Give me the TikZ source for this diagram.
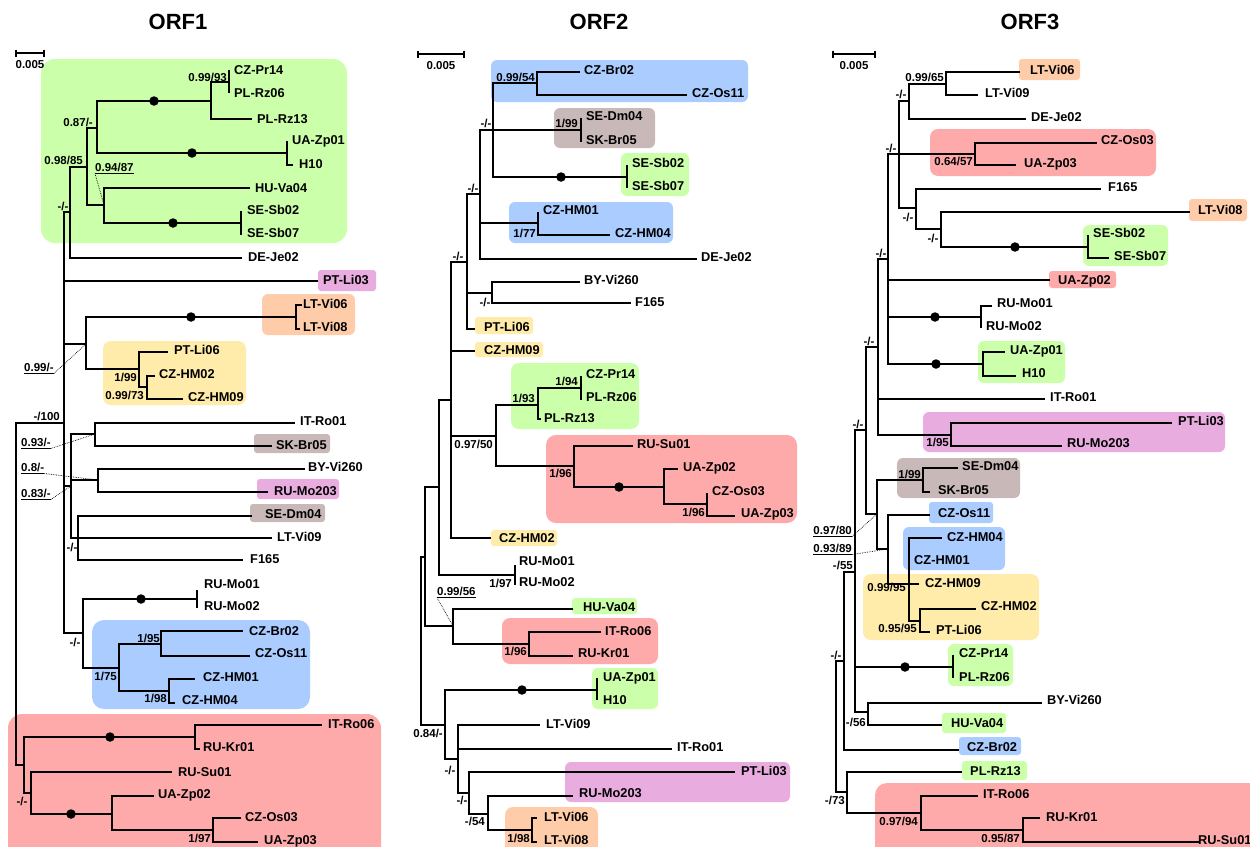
\documentclass[tikz,border=0pt]{standalone}
\usepackage{fontspec}
\setmainfont{Liberation Sans}
\usetikzlibrary{calc}
\definecolor{cgrn}{RGB}{204,255,170}
\definecolor{cblu}{RGB}{170,204,255}
\definecolor{cred}{RGB}{255,170,170}
\definecolor{corg}{RGB}{255,204,170}
\definecolor{cyel}{RGB}{255,236,170}
\definecolor{cbrn}{RGB}{200,184,184}
\definecolor{cpnk}{RGB}{232,172,222}
\newcommand\labfont{\fontsize{12.8}{14}\selectfont\bfseries}
\newcommand\spfont{\fontsize{11.5}{13}\selectfont\bfseries}
\begin{document}
\begin{tikzpicture}[x=1pt,y=-1pt,
  br/.style={line width=2pt},
  lab/.style={font=\labfont,anchor=west,inner sep=0pt,text height=9.2pt,text depth=0pt},
  supp/.style={font=\spfont,anchor=east,inner sep=0pt,text height=8.2pt,text depth=0pt},
  supc/.style={supp,anchor=center},
  dotn/.style={circle,fill=black,inner sep=0pt,minimum size=9.5pt},
  dotl/.style={densely dotted,line width=0.7pt},
  ul/.style={line width=1.2pt},
  sbar/.style={line width=1.4pt},
  ttl/.style={font=\fontsize{22}{26}\selectfont\bfseries,inner sep=0pt}]
\useasboundingbox (0,0) rectangle (1250,846);
\clip (0,0) rectangle (1250,846);
\fill[white] (0,0) rectangle (1250,846);

% ---------- coloured boxes ----------
\foreach \col/\xa/\ya/\xb/\yb/\rad in {
 cgrn/41/59/347/243/14, cpnk/318/270/376/291/3, corg/262/294/355/335/6,
 cyel/103/341/246/405/8, cbrn/254/434/330/453/3, cpnk/257/479/339/499/3,
 cbrn/250/504/325/522/3, cblu/92/620/310/709/12, cred/8/714/381/870/14,
 cblu/491/60/748/102/6, cbrn/554/108/655/148/6, cgrn/621/153/689/196/6,
 cblu/509/202/673/243/6, cyel/475/317/533/334/3, cyel/475/342/543/357/3,
 cgrn/511/363/639/429/8, cred/546/435/797/523/10, cyel/491/530/557/546/3,
 cgrn/572/598/637/614/3, cred/502/618/658/664/8, cgrn/592/668/658/709/6,
 cpnk/565/762/790/802/6, corg/505/807/598/870/8,
 corg/1019/59/1080/80/3, cred/930/129/1156/176/8, corg/1189/199/1247/221/3,
 cgrn/1083/225/1168/266/6, cred/1049/271/1116/288/3, cgrn/978/341/1065/383/6,
 cpnk/923/412/1225/452/6, cbrn/897/458/1020/498/6, cblu/929/502/993/523/3,
 cblu/903/527/1005/570/6, cyel/863/574/1039/640/8, cgrn/948/644/1013/686/6,
 cgrn/942/713/1006/733/3, cblu/959/737/1021/755/3, cgrn/962/761/1027/780/3,
 cred/875/783/1270/870/12}
 \fill[\col, rounded corners=\rad pt] (\xa,\ya) rectangle (\xb,\yb);

% ---------- titles and scale bars ----------
\node[ttl] (title1) at (178,22) {ORF1};
\node[ttl] (title2) at (599,22) {ORF2};
\node[ttl] (title3) at (1030,22) {ORF3};
\foreach \n/\xa/\xb/\y in {s1/16/44/53, s2/418/464/54, s3/833/875/54}{
  \coordinate (\n a) at (\xa,\y); \coordinate (\n b) at (\xb,\y);
  \draw[sbar] (\n a) -- (\n b);
  \draw[sbar] ([yshift=3.5pt]\n a) -- ([yshift=-3.5pt]\n a);
  \draw[sbar] ([yshift=3.5pt]\n b) -- ([yshift=-3.5pt]\n b);
  \node[supc] (\n t) at ($(\n a)!0.5!(\n b)+(0,11)$) {0.005};
}

% ---------- node coordinates ----------
\foreach \n/\x/\y in {
 aA/229/82, aB/211/101, aC/97/128, aUA/287/153, aD/87/167, aE/104/205,
 aSE/241/223, aF/70/212, aG/64/423, aH/86/344, aLT/296/317, aI/139/369,
 aJ/147/387, aK/16/594, aL/71/486, aM/95/434, aN/98/480, aO/78/538,
 aP/83/633, aMo/197/599, aQ/119/668, aR/161/644, aS/169/691, aT/24/765,
 aU/195/737, aV/31/793, aW/112/814, aX/213/830,
 atCZPr14/229/70, atPLRz06/229/93, atPLRz13/252/119, atUAZp01/287/141,
 atH10/293/165, atHUVa04/250/188, atSESb02/241/211, atSESb07/241/235,
 atDEJe02/242/258, atPTLi03/318/281, atLTVi06/302/305, atLTVi08/300/329,
 atPTLi06/168/352, atCZHM02/155/376, atCZHM09/183/399, atITRo01/295/423,
 atSKBr05/272/446, atBYVi260/305/469, atRUMo203/268/492, atSEDm04/252/516,
 atLTVi09/272/538, atF165/243/560, atRUMo01/197/590, atRUMo02/197/608,
 atCZBr02/243/631, atCZOs11/250/656, atCZHM01/195/679, atCZHM04/175/703,
 atITRo06/322/725, atRUKr01/200/749, atRUSu01/172/772, atUAZp02/154/796,
 atCZOs03/241/818, atUAZp03/258/842,
 bA/537/83, bB/493/130, bDm/581/130, bSb/627/177, bHM/538/223, bC/480/194,
 bE/492/293, bD/467/262, bF/451/400, bI/581/388, bH/538/405, bG/496/436,
 bJ/574/466, bK/664/487, bL/707/504, bM/439/487, bMo/515/575, bN/425/557,
 bO/453/626, bP/529/644, bQ/421/641, bR/445/725, bZp/597/690, bS/458/759,
 bT/469/793, bU/488/814, bV/532/830,
 btCZBr02/580/72, btCZOs11/687/95, btSEDm04/581/118, btSKBr05/581/142,
 btSESb02/627/165, btSESb07/627/188, btCZHM01/538/212, btCZHM04/610/235,
 btDEJe02/697/259, btBYVi260/580/282, btF165/631/303, btPTLi06/475/329,
 btCZHM09/475/351, btCZPr14/581/376, btPLRz06/581/400, btPLRz13/541/419,
 btRUSu01/633/446, btUAZp02/678/469, btCZOs03/707/493, btUAZp03/735/516,
 btCZHM02/491/538, btRUMo01/515/565, btRUMo02/515/585, btHUVa04/573/609,
 btITRo06/601/632, btRUKr01/573/656, btUAZp01/597/678, btH10/597/700,
 btLTVi09/540/725, btITRo01/672/749, btPTLi03/735/772, btRUMo203/573/796,
 btLTVi06/537/818, btLTVi08/537/842,
 cA/946/84, cB/909/101, cOs/975/154, cC/899/154, cD/916/208, cE/941/229,
 cSb/1088/247, cF/888/259, cMo/981/317, cZp/983/364, cG/878/347, cPT/951/435,
 cH/866/430, cI/877/514, cDm/923/480, cJ/888/549, cK/909/584, cL/920/621,
 cLL/855/572, cPr/953/667, cM/868/712, cN/844/661, cO/836/727, cP/847/792,
 cQ/921/813, cR/1023/830,
 ctLTVi06/1020/72, ctLTVi09/978/95, ctDEJe02/1026/119, ctCZOs03/1097/143,
 ctUAZp03/1016/165, ctF165/1101/189, ctLTVi08/1190/212, ctSESb02/1088/235,
 ctSESb07/1109/258, ctUAZp02/1050/280, ctRUMo01/992/306, ctRUMo02/981/328,
 ctUAZp01/1005/352, ctH10/1016/376, ctITRo01/1045/399, ctPTLi03/1172/423,
 ctRUMo203/1062/446, ctSEDm04/958/468, ctSKBr05/930/492, ctCZOs11/930/515,
 ctCZHM04/942/538, ctCZHM01/909/560, ctCZHM09/919/584, ctCZHM02/976/609,
 ctPTLi06/930/632, ctCZPr14/953/655, ctPLRz06/953/678, ctBYVi260/1042/703,
 ctHUVa04/942/725, ctCZBr02/959/750, ctPLRz13/962/772, ctITRo06/978/796,
 ctRUKr01/1040/818, ctRUSu01/1199/842}
 \coordinate (\n) at (\x,\y);

% ---------- branches ----------
\foreach \p/\c in {
 aB/aA, aA/atCZPr14, aA/atPLRz06, aB/atPLRz13, aC/aB, aC/aUA, aUA/atUAZp01,
 aUA/atH10, aD/aC, aD/aE, aE/atHUVa04, aE/aSE, aSE/atSESb02, aSE/atSESb07,
 aF/aD, aF/atDEJe02, aG/aF, aG/atPTLi03, aG/aH, aG/aL, aG/aP, aH/aLT,
 aLT/atLTVi06, aLT/atLTVi08, aH/aI, aI/atPTLi06, aI/aJ, aJ/atCZHM02,
 aJ/atCZHM09, aK/aG, aK/aT, aL/aM, aL/aN, aL/aO, aM/atITRo01, aM/atSKBr05,
 aN/atBYVi260, aN/atRUMo203, aO/atSEDm04, aO/atLTVi09, aO/atF165, aP/aMo,
 aP/aQ, aMo/atRUMo01, aMo/atRUMo02, aQ/aR, aQ/aS, aR/atCZBr02, aR/atCZOs11,
 aS/atCZHM01, aS/atCZHM04, aT/aU, aT/aV, aU/atITRo06, aU/atRUKr01,
 aV/atRUSu01, aV/aW, aW/atUAZp02, aW/aX, aX/atCZOs03, aX/atUAZp03,
 bA/btCZBr02, bA/btCZOs11, bB/bA, bB/bDm, bB/bSb, bDm/btSEDm04, bDm/btSKBr05,
 bSb/btSESb02, bSb/btSESb07, bHM/btCZHM01, bHM/btCZHM04, bC/bB, bC/bHM,
 bC/btDEJe02, bE/btBYVi260, bE/btF165, bD/bC, bD/bE, bD/btPTLi06, bF/bD,
 bF/btCZHM09, bF/bG, bF/btCZHM02, bI/btCZPr14, bI/btPLRz06, bH/bI,
 bH/btPLRz13, bG/bH, bG/bJ, bJ/btRUSu01, bJ/bK, bK/btUAZp02, bK/bL,
 bL/btCZOs03, bL/btUAZp03, bM/bF, bM/bMo, bMo/btRUMo01, bMo/btRUMo02,
 bN/bM, bN/bO, bO/btHUVa04, bO/bP, bP/btITRo06, bP/btRUKr01, bQ/bN, bQ/bR,
 bR/bZp, bR/bS, bZp/btUAZp01, bZp/btH10, bS/btLTVi09, bS/btITRo01, bS/bT,
 bT/btPTLi03, bT/bU, bU/btRUMo203, bU/bV, bV/btLTVi06, bV/btLTVi08,
 cA/ctLTVi06, cA/ctLTVi09, cB/cA, cB/ctDEJe02, cOs/ctCZOs03, cOs/ctUAZp03,
 cC/cB, cC/cOs, cC/cD, cD/ctF165, cD/cE, cE/ctLTVi08, cE/cSb, cSb/ctSESb02,
 cSb/ctSESb07, cF/cC, cF/ctUAZp02, cF/cMo, cF/cZp, cMo/ctRUMo01,
 cMo/ctRUMo02, cZp/ctUAZp01, cZp/ctH10, cG/cF, cG/ctITRo01, cG/cPT,
 cPT/ctPTLi03, cPT/ctRUMo203, cH/cG, cH/cI, cI/cDm, cI/cJ, cDm/ctSEDm04,
 cDm/ctSKBr05, cJ/ctCZOs11, cJ/cK, cK/ctCZHM04, cK/ctCZHM01, cK/ctCZHM09,
 cK/cL, cL/ctCZHM02, cL/ctPTLi06, cLL/cH, cLL/cPr, cLL/cM, cPr/ctCZPr14,
 cPr/ctPLRz06, cM/ctBYVi260, cM/ctHUVa04, cN/cLL, cN/ctCZBr02, cO/cN,
 cO/cP, cP/ctPLRz13, cP/cQ, cQ/ctITRo06, cQ/cR, cR/ctRUKr01, cR/ctRUSu01}
 \draw[br] (\p) |- (\c);

% ---------- dots ----------
\foreach \n/\x/\y in {ad1/154/101, ad2/192/153, ad3/173/223, ad4/191/317,
 ad5/141/599, ad6/110/737, ad7/71/814, bd1/561/177, bd2/619/487, bd3/522/690,
 cd1/1015/247, cd2/935/317, cd3/936/364, cd4/905/667}
 \node[dotn] (\n) at (\x,\y) {};

% ---------- taxon labels ----------
\foreach \n/\x/\y/\t in {
 aCZPr14/234/70/CZ-Pr14, aPLRz06/234/93/PL-Rz06, aPLRz13/257/119/PL-Rz13,
 aUAZp01/292/140/UA-Zp01, aH10/299/164/H10, aHUVa04/255/188/HU-Va04,
 aSESb02/247/210/SE-Sb02, aSESb07/247/233/SE-Sb07, aDEJe02/248/257/DE-Je02,
 aPTLi03/323/280/PT-Li03, aLTVi06/303/304/LT-Vi06, aLTVi08/303/327/LT-Vi08,
 aPTLi06/174/350/PT-Li06, aCZHM02/159/374/CZ-HM02, aCZHM09/188/397/CZ-HM09,
 aITRo01/300/421/IT-Ro01, aSKBr05/276/445/SK-Br05, aBYVi260/308/467/BY-Vi260,
 aRUMo203/274/491/RU-Mo203, aSEDm04/265/514/SE-Dm04, aLTVi09/277/537/LT-Vi09,
 aF165/250/559/F165, aRUMo01/204/584/RU-Mo01, aRUMo02/204/606/RU-Mo02,
 aCZBr02/249/631/CZ-Br02, aCZOs11/255/653/CZ-Os11, aCZHM01/203/677/CZ-HM01,
 aCZHM04/182/700/CZ-HM04, aITRo06/328/724/IT-Ro06, aRUKr01/203/747/RU-Kr01,
 aRUSu01/178/772/RU-Su01, aUAZp02/158/794/UA-Zp02, aCZOs03/245/817/CZ-Os03,
 aUAZp03/264/840/UA-Zp03,
 bCZBr02/584/70/CZ-Br02, bCZOs11/692/93/CZ-Os11, bSEDm04/586/116/SE-Dm04,
 bSKBr05/586/140/SK-Br05, bSESb02/632/163/SE-Sb02, bSESb07/632/186/SE-Sb07,
 bCZHM01/543/210/CZ-HM01, bCZHM04/615/233/CZ-HM04, bDEJe02/701/257/DE-Je02,
 bBYVi260/584/280/BY-Vi260, bF165/635/302/F165, bPTLi06/484/327/PT-Li06,
 bCZHM09/484/350/CZ-HM09, bCZPr14/586/374/CZ-Pr14, bPLRz06/586/397/PL-Rz06,
 bPLRz13/544/418/PL-Rz13, bRUSu01/637/444/RU-Su01, bUAZp02/683/467/UA-Zp02,
 bCZOs03/712/491/CZ-Os03, bUAZp03/741/513/UA-Zp03, bCZHM02/499/538/CZ-HM02,
 bRUMo01/519/561/RU-Mo01, bRUMo02/519/582/RU-Mo02, bHUVa04/583/607/HU-Va04,
 bITRo06/605/631/IT-Ro06, bRUKr01/578/653/RU-Kr01, bUAZp01/603/677/UA-Zp01,
 bH10/603/700/H10, bLTVi09/546/724/LT-Vi09, bITRo01/677/747/IT-Ro01,
 bPTLi03/741/771/PT-Li03, bRUMo203/579/793/RU-Mo203, bLTVi06/544/817/LT-Vi06,
 bLTVi08/544/840/LT-Vi08,
 cLTVi06/1030/70/LT-Vi06, cLTVi09/985/93/LT-Vi09, cDEJe02/1031/117/DE-Je02,
 cCZOs03/1101/140/CZ-Os03, cUAZp03/1024/163/UA-Zp03, cF165/1108/187/F165,
 cLTVi08/1198/210/LT-Vi08, cSESb02/1093/233/SE-Sb02, cSESb07/1114/256/SE-Sb07,
 cUAZp02/1058/280/UA-Zp02, cRUMo01/997/303/RU-Mo01, cRUMo02/986/326/RU-Mo02,
 cUAZp01/1010/350/UA-Zp01, cH10/1022/373/H10, cITRo01/1050/397/IT-Ro01,
 cPTLi03/1178/421/PT-Li03, cRUMo203/1067/443/RU-Mo203, cSEDm04/962/466/SE-Dm04,
 cSKBr05/938/490/SK-Br05, cCZOs11/938/513/CZ-Os11, cCZHM04/947/537/CZ-HM04,
 cCZHM01/914/560/CZ-HM01, cCZHM09/925/583/CZ-HM09, cCZHM02/981/606/CZ-HM02,
 cPTLi06/936/630/PT-Li06, cCZPr14/959/653/CZ-Pr14, cPLRz06/959/677/PL-Rz06,
 cBYVi260/1047/700/BY-Vi260, cHUVa04/951/723/HU-Va04, cCZBr02/967/747/CZ-Br02,
 cPLRz13/970/771/PL-Rz13, cITRo06/983/794/IT-Ro06, cRUKr01/1046/817/RU-Kr01,
 cRUSu01/1198/840/RU-Su01}
 \node[lab] (l\n) at (\x,\y) {\t};

% ---------- support values ----------
\foreach \x/\y/\t [count=\i] in {
 227/77/{0.99/93}, 93/122/{0.87/-}, 83/160/{0.98/85}, 137/377/{1/99},
 144/395/{0.99/73}, 60/416/{-/100}, 160/638/{1/95}, 117/676/{1/75},
 167/698/{1/98}, 211/838/{1/97},
 535/77/{0.99/54}, 578/123/{1/99}, 536/233/{1/77}, 578/381/{1/94},
 535/398/{1/93}, 493/444/{0.97/50}, 572/473/{1/96}, 705/512/{1/96},
 512/583/{1/97}, 527/651/{1/96}, 443/733/{0.84/-}, 485/821/{-/54},
 530/838/{1/98},
 944/77/{0.99/65}, 973/161/{0.64/57}, 949/442/{1/95}, 921/474/{1/99},
 853/565/{-/55}, 906/587/{0.99/95}, 917/628/{0.95/95}, 866/722/{-/56},
 845/800/{-/73}, 918/821/{0.97/94}, 1020/838/{0.95/87}}
 \node[supp] (sv\i) at (\x,\y) {\t};
\foreach \x/\y [count=\i] in {63/206, 72/547, 75/642, 22/801,
 486/123, 473/188, 458/256, 485/302, 450/770, 462/800,
 901/94, 891/148, 908/217, 933/238, 881/253, 869/341, 858/424, 836/655}
 \node[supc] (sd\i) at (\x,\y) {-/-};

% ---------- underlined values with dotted leaders ----------
\node[supp,anchor=west] (u1) at (95,167) {0.94/87};
\node[supp,anchor=west] (u2) at (24,367) {0.99/-};
\node[supp,anchor=west] (u3) at (21,442) {0.93/-};
\node[supp,anchor=west] (u4) at (21,467) {0.8/-};
\node[supp,anchor=west] (u5) at (21,493) {0.83/-};
\node[supp,anchor=west] (u6) at (437,591) {0.99/56};
\node[supp] (u7) at (852,530) {0.97/80};
\node[supp] (u8) at (852,548) {0.93/89};
\foreach \u in {u1,u2,u3,u4,u5,u6,u7,u8}
 \draw[ul] ([yshift=-2.2pt]\u.south west) -- ([yshift=-2.2pt]\u.south east);
\draw[dotl] ([yshift=-2.2pt]u1.south west) -- (aE);
\draw[dotl] ([yshift=-2.2pt]u2.south east) -- (aH);
\draw[dotl] ([yshift=-2.2pt]u3.south east) -- (aM);
\draw[dotl] ([yshift=-2.2pt]u4.south east) -- (aN);
\draw[dotl] ([yshift=-2.2pt]u5.south east) -- (aL);
\draw[dotl] ([yshift=-2.2pt]u6.south west) -- (bO);
\draw[dotl] ([yshift=-2.2pt]u7.south east) -- (cI);
\draw[dotl] ([yshift=-2.2pt]u8.south east) -- (cJ);
\end{tikzpicture}
\end{document}
